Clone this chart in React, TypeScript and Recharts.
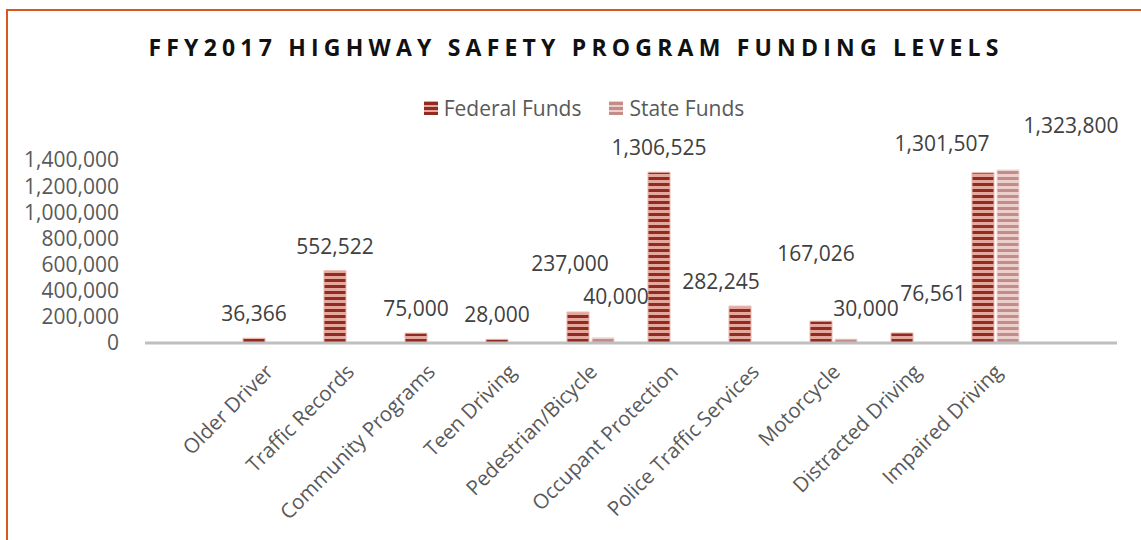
import React from "react";
import { BarChart, Bar, XAxis, YAxis, LabelList } from "recharts";

const categories = [
  "Older Driver",
  "Traffic Records",
  "Community Programs",
  "Teen Driving",
  "Pedestrian/Bicycle",
  "Occupant Protection",
  "Police Traffic Services",
  "Motorcycle",
  "Distracted Driving",
  "Impaired Driving",
];

const federalFunds = [36366, 552522, 75000, 28000, 237000, 1306525, 282245, 167026, 76561, 1301507];
const stateFunds = [null, null, null, null, 40000, null, null, 30000, null, 1323800];

const yTicks = [0, 200000, 400000, 600000, 800000, 1000000, 1200000, 1400000];

const seriesNames = ["Federal Funds", "State Funds"];

// relative nudges of the data labels (as moved in the original chart)
const fedLabelNudge = [
  [0, 0], [0, 0], [0, 0], [0, 0], [-8, -24], [0, 0], [-19, 0], [-5, -43], [31, -15], [-41, -5],
];
const stateLabelNudge = [
  [0, 0], [0, 0], [0, 0], [0, 0], [13, -17], [0, 0], [0, 0], [20, -6], [0, 0], [63, -20],
];

const data = categories.map((name, i) => ({
  name,
  federal: federalFunds[i],
  state: stateFunds[i],
}));

const fmt = (v: number) => v.toLocaleString("en-US");

const FONT = "'Open Sans', 'DejaVu Sans', sans-serif";

const makeLabel = (series: (number | null)[], nudge: number[][]) => (props: any) => {
  const { x, y, width, value } = props;
  if (value == null) return null;
  const idx = series.indexOf(Number(value));
  const [dx, dy] = nudge[idx] || [0, 0];
  return (
    <text
      x={Number(x) + Number(width) / 2 + dx}
      y={Number(y) - 25 + dy}
      textAnchor="middle"
      dominantBaseline="central"
      fontSize={21}
      fontFamily={FONT}
      fill="#404040"
    >
      {fmt(Number(value))}
    </text>
  );
};

const CategoryTick = (props: any) => {
  const { x, y, payload } = props;
  return (
    <g transform={`translate(${x},${y})`}>
      <text
        x={8}
        y={22}
        transform="rotate(-45, 8, 22)"
        textAnchor="end"
        fontSize={20.5}
        fontFamily={FONT}
        fill="#595959"
      >
        {payload.value}
      </text>
    </g>
  );
};

const Swatch = ({ dark, light }: { dark: string; light: string }) => (
  <svg width={14} height={14} style={{ display: "inline-block", verticalAlign: "middle" }}>
    <rect x={0} y={0} width={14} height={14} fill={light} />
    <rect x={0} y={1} width={14} height={3} fill={dark} />
    <rect x={0} y={6} width={14} height={3} fill={dark} />
    <rect x={0} y={11} width={14} height={3} fill={dark} />
  </svg>
);

export default function App() {
  return (
    <div
      style={{
        position: "absolute",
        left: 0,
        top: 0,
        width: 1141,
        height: 540,
        overflow: "hidden",
        background: "#ffffff",
        fontFamily: FONT,
      }}
    >
      <div
        style={{
          position: "absolute",
          left: 6,
          top: 9,
          width: 1160,
          height: 600,
          border: "2px solid #D9571E",
          boxSizing: "border-box",
        }}
      />
      <div
        style={{
          position: "absolute",
          left: 0,
          top: 32,
          width: 1152,
          textAlign: "center",
          fontSize: 23,
          fontWeight: 700,
          letterSpacing: 5.2,
          color: "#111",
          lineHeight: "30px",
        }}
      >
        FFY2017 HIGHWAY SAFETY PROGRAM FUNDING LEVELS
      </div>
      <div
        style={{
          position: "absolute",
          left: 8,
          top: 91,
          width: 1152,
          textAlign: "center",
          fontSize: 21,
          color: "#595959",
          lineHeight: "30px",
          zIndex: 2,
        }}
      >
        <span style={{ marginRight: 28 }}>
          <Swatch dark="#922B1F" light="#E4A89E" />
          <span style={{ marginLeft: 6, verticalAlign: "middle" }}>{seriesNames[0]}</span>
        </span>
        <span>
          <Swatch dark="#C48C88" light="#EBD0CD" />
          <span style={{ marginLeft: 6, verticalAlign: "middle" }}>{seriesNames[1]}</span>
        </span>
      </div>
      <BarChart
        width={1141}
        height={540}
        data={data}
        margin={{ top: 160, right: 24, bottom: 167, left: 0 }}
        barSize={22}
        barGap={3}
      >
        <defs>
          <pattern id="fedStripe" width={6} height={6} patternUnits="userSpaceOnUse">
            <rect x={0} y={0} width={6} height={6} fill="#E4A89E" />
            <rect x={0} y={3} width={6} height={3} fill="#922B1F" />
          </pattern>
          <pattern id="stateStripe" width={6} height={6} patternUnits="userSpaceOnUse">
            <rect x={0} y={0} width={6} height={6} fill="#EBD0CD" />
            <rect x={0} y={3} width={6} height={3} fill="#C48C88" />
          </pattern>
        </defs>
        <XAxis
          dataKey="name"
          interval={0}
          height={30}
          padding={{ left: 81, right: 81 }}
          axisLine={{ stroke: "#BFBFBF", strokeWidth: 3 }}
          tickLine={false}
          tick={<CategoryTick />}
        />
        <YAxis
          width={145}
          domain={[0, 1400000]}
          ticks={yTicks}
          interval={0}
          axisLine={false}
          tickLine={false}
          tickSize={0}
          tickMargin={26}
          tickFormatter={(v: number) => fmt(v)}
          tick={{ fontSize: 21, fontFamily: FONT, fill: "#595959" }}
        />
        <Bar
          dataKey="federal"
          name={seriesNames[0]}
          fill="url(#fedStripe)"
          stroke="#E8B6AE"
          strokeWidth={1}
          isAnimationActive={false}
        >
          <LabelList dataKey="federal" content={makeLabel(federalFunds, fedLabelNudge)} />
        </Bar>
        <Bar
          dataKey="state"
          name={seriesNames[1]}
          fill="url(#stateStripe)"
          stroke="#EFD9D6"
          strokeWidth={1}
          isAnimationActive={false}
        >
          <LabelList dataKey="state" content={makeLabel(stateFunds, stateLabelNudge)} />
        </Bar>
      </BarChart>
    </div>
  );
}
